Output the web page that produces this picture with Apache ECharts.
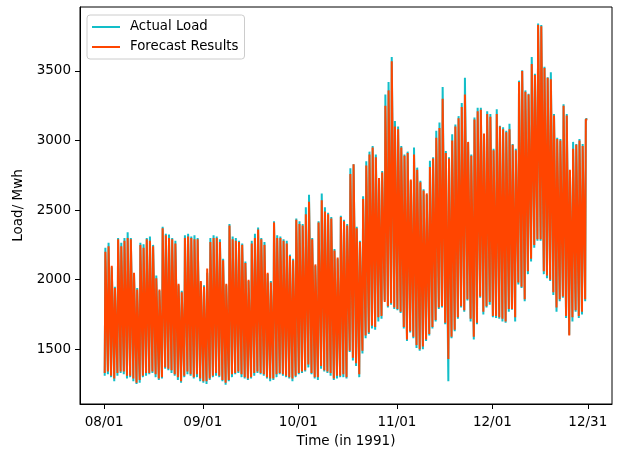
<!DOCTYPE html>
<html lang="en">
<head>
    <meta charset="utf-8">
    <title>Load Forecast 1991</title>
    <style>
        * {
            margin: 0;
            padding: 0;
        }

        #chart {
            width: 620px;
            height: 449px;
            background: #fff;
        }
    </style>
</head>
<body>
<div id="chart"></div>
<script src="https://cdn.jsdelivr.net/npm/echarts@6/dist/echarts.min.js"></script>
<script>
    // day index 0 = 1991-08-01
    const tickDays = [0, 31, 61, 92, 122, 152];
    const tickLabels = ['08/01', '09/01', '10/01', '11/01', '12/01', '12/31'];
    const loadTicks = [1500, 2000, 2500, 3000, 3500];

    // daily peak / trough (MWh)
    const actualPeak = [
        2230, 2265, 2090, 1950,
        2300, 2265, 2300, 2340, 2300, 2040, 1940,
        2265, 2255, 2300, 2310, 2250, 2030, 1920,
        2380, 2330, 2325, 2300, 2280, 1960, 1920,
        2320, 2330, 2310, 2320, 2300, 1980, 1960,
        2050, 2300, 2320, 2310, 2290, 2150, 1960,
        2400, 2310, 2300, 2280, 2260, 2130, 1990,
        2280, 2330, 2375, 2300, 2270, 2040, 1990,
        2420, 2320, 2310, 2290, 2280, 2180, 2150,
        2440, 2420, 2400, 2520, 2610, 2300, 2100,
        2420, 2620, 2520, 2480, 2450, 2220, 2150,
        2460, 2430, 2400, 2800, 2830, 2380, 2280,
        2600, 2850, 2920, 2960, 2900, 2720, 2780,
        3330, 3420, 3600, 3140, 3100, 2960, 2900,
        2920, 2710, 2950, 2805, 2710, 2650, 2610,
        2855, 2880, 3070, 3130, 3385, 2925, 2880,
        3045, 3115, 3175, 3270, 3450, 2980, 2900,
        3165, 3235, 3235, 3045, 3210, 3190, 2940,
        3225, 3105, 3095, 3070, 3120, 2975, 2940,
        3430, 3505, 3360, 3335, 3600, 3480, 3840,
        3830, 3530, 3455, 3490, 3190, 3020, 3010,
        3260, 3190, 2780, 2990, 2975, 3010, 2975, 3155
    ];
    const actualTrough = [
        1310, 1320, 1300, 1270,
        1310, 1330, 1320, 1290, 1300, 1270, 1250,
        1260, 1300, 1310, 1320, 1330, 1300, 1280,
        1290, 1360, 1350, 1330, 1310, 1280, 1260,
        1300, 1320, 1310, 1290, 1300, 1270, 1260,
        1250, 1280, 1300, 1310, 1300, 1270, 1245,
        1270, 1300, 1320, 1330, 1300, 1290, 1280,
        1290, 1310, 1330, 1320, 1310, 1290, 1270,
        1280, 1300, 1320, 1310, 1300, 1290, 1270,
        1300, 1320, 1330, 1340, 1370, 1320, 1290,
        1280, 1360, 1340, 1330, 1310, 1280, 1290,
        1300, 1300, 1290, 1480, 1420, 1380, 1300,
        1470, 1580, 1610, 1650, 1640, 1700, 1720,
        1850, 1800, 1820, 1790, 1780, 1760, 1650,
        1560, 1620, 1580, 1510, 1490, 1500, 1560,
        1600, 1650, 1700, 1790, 1800, 1680, 1270,
        1580, 1630, 1720, 1800, 1770, 1850, 1700,
        1570, 1680, 1870, 1750, 1800, 1820, 1730,
        1725, 1720, 1700, 1690, 1770, 1785, 1700,
        1965, 1940, 1845, 2040, 2130, 2230, 2280,
        2280, 2040, 2010, 1990, 1890, 1770, 1845,
        1870, 1725, 1605, 1700, 1770, 1725, 1750, 1845
    ];
    const forecastPeak = [
        2200, 2240, 2100, 1940,
        2290, 2240, 2280, 2300, 2290, 2050, 1930,
        2250, 2230, 2290, 2280, 2240, 2010, 1930,
        2370, 2320, 2300, 2290, 2260, 1970, 1910,
        2300, 2310, 2300, 2290, 2290, 1990, 1950,
        2080, 2270, 2300, 2300, 2270, 2140, 1970,
        2390, 2290, 2280, 2270, 2250, 2120, 2000,
        2260, 2300, 2360, 2290, 2250, 2050, 1980,
        2410, 2300, 2300, 2280, 2260, 2170, 2140,
        2430, 2400, 2390, 2470, 2560, 2290, 2110,
        2410, 2570, 2490, 2470, 2440, 2210, 2160,
        2450, 2420, 2390, 2760, 2830, 2370, 2270,
        2580, 2820, 2900, 2950, 2880, 2730, 2770,
        3250, 3360, 3570, 3100, 3080, 2950, 2890,
        2910, 2720, 2900, 2790, 2700, 2640, 2620,
        2810, 2870, 3020, 3090, 3300, 2910, 2870,
        3000, 3100, 3160, 3240, 3330, 2990, 2890,
        3150, 3210, 3220, 3050, 3190, 3170, 2930,
        3190, 3100, 3080, 3060, 3080, 2970, 2930,
        3420, 3500, 3350, 3330, 3550, 3470, 3830,
        3820, 3520, 3450, 3440, 3180, 3010, 3000,
        3250, 3180, 2790, 2940, 2970, 3000, 2960, 3150
    ];
    const forecastTrough = [
        1330, 1340, 1310, 1290,
        1330, 1340, 1340, 1310, 1310, 1290, 1260,
        1280, 1310, 1330, 1330, 1340, 1320, 1290,
        1300, 1370, 1360, 1350, 1320, 1300, 1270,
        1310, 1340, 1320, 1300, 1320, 1290, 1270,
        1270, 1290, 1310, 1330, 1310, 1280, 1260,
        1280, 1320, 1330, 1340, 1320, 1300, 1290,
        1300, 1330, 1340, 1330, 1320, 1300, 1290,
        1290, 1320, 1330, 1320, 1310, 1300, 1290,
        1310, 1330, 1340, 1350, 1390, 1330, 1300,
        1300, 1380, 1350, 1340, 1330, 1290, 1310,
        1310, 1320, 1300, 1490, 1440, 1400, 1320,
        1490, 1600, 1620, 1670, 1660, 1730, 1740,
        1840, 1810, 1830, 1800, 1790, 1770, 1660,
        1570, 1630, 1590, 1530, 1500, 1520, 1570,
        1610, 1660, 1710, 1800, 1810, 1690, 1430,
        1590, 1640, 1730, 1810, 1780, 1860, 1720,
        1590, 1690, 1880, 1770, 1810, 1840, 1740,
        1740, 1730, 1720, 1700, 1790, 1790, 1730,
        1980, 1950, 1860, 2060, 2150, 2250, 2290,
        2290, 2060, 2030, 2000, 1910, 1800, 1860,
        1880, 1740, 1600, 1730, 1780, 1740, 1770, 1860
    ];

    // night trough at 4h, daytime peak held from 9h to 20h
    function dailyPoints(trough, peak) {
        const pts = [];
        for (let d = 0; d < peak.length; d++) {
            pts.push([d + 4 / 24, trough[d]]);
            pts.push([d + 9 / 24, peak[d]]);
            pts.push([d + 20 / 24, peak[d]]);
        }
        return pts;
    }

    const font = 'DejaVu Sans';
    const fontSize = 13.5;
    const chart = echarts.init(document.getElementById('chart'), null, {renderer: 'canvas'});
    const option = {
        animation: false,
        textStyle: {fontFamily: font, color: '#000'},
        grid: {
            left: 80, right: 8, top: 7, bottom: 45,
            outerBoundsMode: 'none',
            containLabel: false,
            show: true, borderColor: '#000', borderWidth: 1
        },
        legend: {
            left: 87, top: 15,
            orient: 'vertical',
            icon: 'rect',
            itemWidth: 28,
            itemHeight: 2,
            itemGap: 6,
            padding: [5, 6, 5, 5],
            backgroundColor: '#fff',
            borderColor: '#cccccc',
            borderWidth: 1,
            borderRadius: 3,
            textStyle: {fontFamily: font, fontSize: 13.3, color: '#000', lineHeight: 14, padding: [0, 0, 0, 5]},
            data: ['Actual Load', 'Forecast Results']
        },
        xAxis: {
            type: 'value',
            min: -7.6,
            max: 159.6,
            name: 'Time (in 1991)',
            nameLocation: 'middle',
            nameGap: 30,
            nameTextStyle: {fontFamily: font, fontSize: fontSize, color: '#000'},
            axisLine: {onZero: false, lineStyle: {color: '#000', width: 1}},
            axisTick: {customValues: tickDays, length: 5, lineStyle: {color: '#000'}},
            axisLabel: {
                customValues: tickDays,
                margin: 11,
                fontFamily: font,
                fontSize: fontSize,
                color: '#000',
                formatter: function (v) {
                    const i = tickDays.indexOf(Math.round(v));
                    return i >= 0 ? tickLabels[i] : '';
                }
            },
            splitLine: {show: false}
        },
        yAxis: {
            type: 'value',
            min: 1107,
            max: 3959,
            name: 'Load/ Mwh',
            nameLocation: 'middle',
            nameRotate: 90,
            nameGap: 46,
            nameTextStyle: {fontFamily: font, fontSize: fontSize, color: '#000'},
            axisLine: {show: true, onZero: false, lineStyle: {color: '#000', width: 1}},
            axisTick: {show: true, customValues: loadTicks, length: 5, lineStyle: {color: '#000'}},
            axisLabel: {
                customValues: loadTicks,
                margin: 9,
                fontFamily: font,
                fontSize: fontSize,
                color: '#000',
                formatter: function (v) {
                    return String(v);
                }
            },
            splitLine: {show: false}
        },
        series: [
            {
                name: 'Actual Load',
                type: 'line',
                data: dailyPoints(actualTrough, actualPeak),
                showSymbol: false,
                color: '#12bec8',
                lineStyle: {width: 2},
                z: 2
            },
            {
                name: 'Forecast Results',
                type: 'line',
                data: dailyPoints(forecastTrough, forecastPeak),
                showSymbol: false,
                color: '#ff4500',
                lineStyle: {width: 2},
                z: 3
            }
        ]
    };
    chart.setOption(option);
</script>
</body>
</html>
